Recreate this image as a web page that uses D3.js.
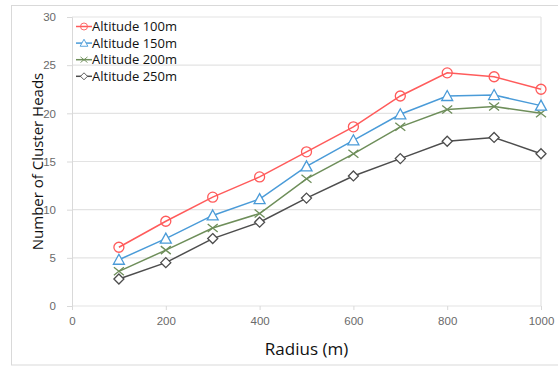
<html lang="en">
<head>
<meta charset="UTF-8">
<title>Cluster Heads vs Radius</title>
<script src="https://d3js.org/d3.v7.min.js"></script>
<style>
  body { margin: 0; background: #fff; font-family: "Open Sans", Arial, sans-serif; }
  .tick text { fill: #6a6a6a; font-size: 11.5px; }
  .legend text { font-size: 13px; fill: #111; }
</style>
</head>
<body>
<div id="chart"></div>
<script>
// data
const radius = [100, 200, 300, 400, 500, 600, 700, 800, 900, 1000];
const alt100 = [6.1, 8.8, 11.3, 13.4, 16.0, 18.6, 21.8, 24.2, 23.8, 22.5];
const alt150 = [4.8, 7.0, 9.4, 11.1, 14.5, 17.2, 19.9, 21.8, 21.9, 20.8];
const alt200 = [3.6, 5.8, 8.1, 9.6, 13.2, 15.8, 18.6, 20.4, 20.7, 20.0];
const alt250 = [2.8, 4.5, 7.0, 8.7, 11.2, 13.5, 15.3, 17.1, 17.5, 15.8];
const seriesNames = ["Altitude 100m", "Altitude 150m", "Altitude 200m", "Altitude 250m"];
const xTicks = [0, 200, 400, 600, 800, 1000];
const yTicks = [0, 5, 10, 15, 20, 25, 30];

const W = 558, H = 367;
const margin = { top: 17, right: 17, bottom: 61, left: 72 };

const svg = d3.select("#chart").append("svg")
  .attr("width", W)
  .attr("height", H);

// outer chart frame
svg.append("rect")
  .attr("x", 11.5).attr("y", 5.5)
  .attr("width", 560).attr("height", 359.5)
  .attr("fill", "none").attr("stroke", "#d9d9d9");

const x = d3.scaleLinear().domain([0, 1000]).range([margin.left, W - margin.right]);
const y = d3.scaleLinear().domain([0, 30]).range([H - margin.bottom, margin.top]);

// gridlines
svg.append("g")
  .selectAll("line")
  .data(yTicks)
  .join("line")
  .attr("x1", x(0)).attr("x2", x(1000))
  .attr("y1", d => y(d)).attr("y2", d => y(d))
  .attr("stroke", "#e3e3e3").attr("stroke-width", 1.2);

// right plot border
svg.append("line")
  .attr("x1", x(1000)).attr("x2", x(1000))
  .attr("y1", y(0)).attr("y2", y(30))
  .attr("stroke", "#e3e3e3").attr("stroke-width", 1.2);

const yAxis = svg.append("g")
  .attr("transform", `translate(${x(0)},0)`)
  .call(d3.axisLeft(y).tickValues(yTicks).tickSize(5).tickPadding(11));
yAxis.select(".domain").attr("stroke", "#d9d9d9");
yAxis.selectAll(".tick line").attr("stroke", "#d9d9d9");

const xAxis = svg.append("g")
  .attr("transform", `translate(0,${y(0)})`)
  .call(d3.axisBottom(x).tickValues(xTicks).tickFormat(d3.format("d")).tickSize(4).tickPadding(7));
xAxis.select(".domain").remove();
xAxis.selectAll(".tick line").attr("stroke", "#d9d9d9");

// axis titles
svg.append("text")
  .attr("x", (x(0) + x(1000)) / 2)
  .attr("y", 355)
  .attr("text-anchor", "middle")
  .attr("font-size", 17)
  .attr("fill", "#111")
  .text("Radius (m)");

svg.append("text")
  .attr("transform", `translate(43,${(y(0) + y(30)) / 2}) rotate(-90)`)
  .attr("text-anchor", "middle")
  .attr("font-size", 15)
  .attr("fill", "#111")
  .text("Number of Cluster Heads");

const colors = ["#ff5b5b", "#4a9bd8", "#6e8e5a", "#4d4d4d"];
const allSeries = [alt100, alt150, alt200, alt250];

function drawMarker(g, kind, color) {
  if (kind === 0) {
    g.append("circle").attr("r", 5).attr("fill", "none").attr("stroke", color).attr("stroke-width", 1.3);
  } else if (kind === 1) {
    g.append("path").attr("d", "M0,-5.5L5.5,4.5L-5.5,4.5Z").attr("fill", "#fff").attr("stroke", color).attr("stroke-width", 1.3);
  } else if (kind === 2) {
    g.append("path").attr("d", "M-5,-4L5,4M-5,4L5,-4").attr("stroke", color).attr("stroke-width", 1.3);
  } else {
    g.append("path").attr("d", "M0,-5L5,0L0,5L-5,0Z").attr("fill", "#fff").attr("stroke", color).attr("stroke-width", 1.3);
  }
}

const line = d3.line().x((d, i) => x(radius[i])).y(d => y(d));

allSeries.slice().reverse().forEach((vals, r) => {
  const k = allSeries.length - 1 - r;
  svg.append("path")
    .datum(vals)
    .attr("d", line)
    .attr("fill", "none")
    .attr("stroke", colors[k])
    .attr("stroke-width", 1.5);
  vals.forEach((v, i) => {
    const g = svg.append("g").attr("transform", `translate(${x(radius[i])},${y(v)})`);
    drawMarker(g, k, colors[k]);
  });
});

// legend
const legend = svg.append("g").attr("class", "legend");
seriesNames.forEach((name, k) => {
  const ly = 26.5 + k * 16.6;
  legend.append("line")
    .attr("x1", 76).attr("x2", 92)
    .attr("y1", ly).attr("y2", ly)
    .attr("stroke", colors[k]).attr("stroke-width", 1.5);
  const g = legend.append("g").attr("transform", `translate(84,${ly}) scale(0.7)`);
  drawMarker(g, k, colors[k]);
  legend.append("text")
    .attr("x", 92).attr("y", ly)
    .attr("dy", "0.35em")
    .text(name);
});
</script>
</body>
</html>
